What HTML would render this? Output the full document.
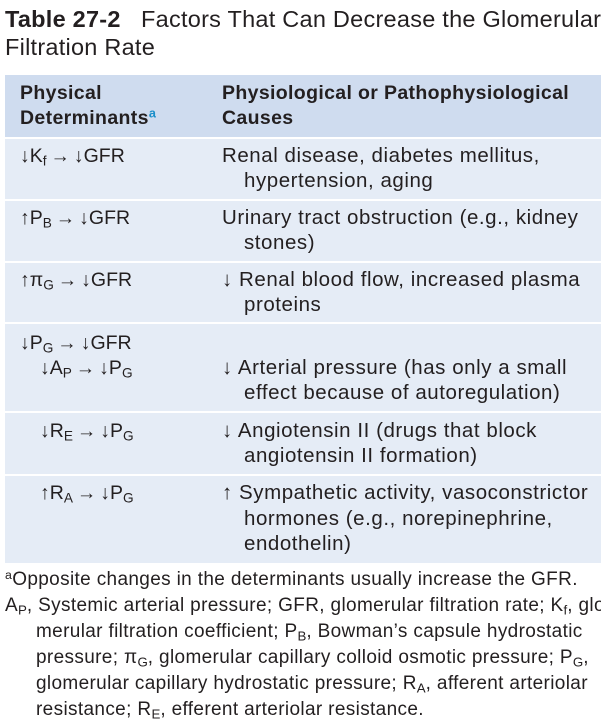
<!DOCTYPE html>
<html><head><meta charset="utf-8">
<style>
html,body{margin:0;padding:0;background:#fff;}
#page{position:relative;width:601px;height:726px;overflow:hidden;font-family:"Liberation Sans",sans-serif;color:#231f20;}
.ln{position:absolute;white-space:nowrap;font-size:20.5px;letter-spacing:0.55px;line-height:22px;}
.hd{font-size:19.5px;letter-spacing:0.35px;font-weight:bold;}
.fn{position:absolute;white-space:nowrap;font-size:19px;letter-spacing:0.35px;line-height:22px;}
.c1{font-size:19.5px;letter-spacing:0px;}
.b{font-weight:bold;}
sub{font-size:0.7em;vertical-align:-0.25em;line-height:0;letter-spacing:0;}
sup{font-size:0.65em;vertical-align:0.5em;line-height:0;color:#1a8fc9;font-weight:bold;}
.band{position:absolute;left:5px;width:596px;}
</style></head><body>
<div id="page">
  <div class="ln" style="left:5px;top:6px;font-size:23.5px;letter-spacing:0.25px;line-height:26px;"><span class="b">Table 27-2</span>&nbsp;&nbsp;&nbsp;Factors That Can Decrease the Glomerular</div>
  <div class="ln" style="left:5px;top:34px;font-size:23.5px;letter-spacing:0.25px;line-height:26px;">Filtration Rate</div>

  <div class="band" style="top:75px;height:62px;background:#cfdcef;"></div>
  <div class="band" style="top:139px;height:60px;background:#e5ecf6;"></div>
  <div class="band" style="top:201px;height:60px;background:#e5ecf6;"></div>
  <div class="band" style="top:263px;height:59px;background:#e5ecf6;"></div>
  <div class="band" style="top:324px;height:87px;background:#e5ecf6;"></div>
  <div class="band" style="top:413px;height:61px;background:#e5ecf6;"></div>
  <div class="band" style="top:476px;height:87px;background:#e5ecf6;"></div>

  <div class="ln hd" style="left:20px;top:82px;">Physical</div>
  <div class="ln hd" style="left:20px;top:107px;">Determinants<sup>a</sup></div>
  <div class="ln hd" style="left:222px;top:82px;">Physiological or Pathophysiological</div>
  <div class="ln hd" style="left:222px;top:107px;">Causes</div>

  <div class="ln c1" style="left:20px;top:145px;">↓K<sub>f</sub>&thinsp;→&thinsp;↓GFR</div>
  <div class="ln" style="left:222px;top:145px;">Renal disease, diabetes mellitus,</div>
  <div class="ln" style="left:244px;top:170px;">hypertension, aging</div>

  <div class="ln c1" style="left:20px;top:207px;">↑P<sub>B</sub>&thinsp;→&thinsp;↓GFR</div>
  <div class="ln" style="left:222px;top:207px;">Urinary tract obstruction (e.g., kidney</div>
  <div class="ln" style="left:244px;top:232px;">stones)</div>

  <div class="ln c1" style="left:20px;top:269px;">↑π<sub>G</sub>&thinsp;→&thinsp;↓GFR</div>
  <div class="ln" style="left:222px;top:269px;">↓ Renal blood flow, increased plasma</div>
  <div class="ln" style="left:244px;top:294px;">proteins</div>

  <div class="ln c1" style="left:20px;top:332px;">↓P<sub>G</sub>&thinsp;→&thinsp;↓GFR</div>
  <div class="ln c1" style="left:40px;top:357px;">↓A<sub>P</sub>&thinsp;→&thinsp;↓P<sub>G</sub></div>
  <div class="ln" style="left:222px;top:357px;">↓ Arterial pressure (has only a small</div>
  <div class="ln" style="left:244px;top:382px;">effect because of autoregulation)</div>

  <div class="ln c1" style="left:40px;top:420px;">↓R<sub>E</sub>&thinsp;→&thinsp;↓P<sub>G</sub></div>
  <div class="ln" style="left:222px;top:420px;">↓ Angiotensin II (drugs that block</div>
  <div class="ln" style="left:244px;top:445px;">angiotensin II formation)</div>

  <div class="ln c1" style="left:40px;top:482px;">↑R<sub>A</sub>&thinsp;→&thinsp;↓P<sub>G</sub></div>
  <div class="ln" style="left:222px;top:482px;">↑ Sympathetic activity, vasoconstrictor</div>
  <div class="ln" style="left:244px;top:508px;">hormones (e.g., norepinephrine,</div>
  <div class="ln" style="left:244px;top:533px;">endothelin)</div>

  <div class="fn" style="left:5px;top:569px;"><sup style="color:#231f20;font-weight:normal">a</sup>Opposite changes in the determinants usually increase the GFR.</div>
  <div class="fn" style="left:5px;top:595px;">A<sub>P</sub>, Systemic arterial pressure; GFR, glomerular filtration rate; K<sub>f</sub>, glo</div>
  <div class="fn" style="left:36px;top:621px;">merular filtration coefficient; P<sub>B</sub>, Bowman’s capsule hydrostatic</div>
  <div class="fn" style="left:36px;top:647px;">pressure; π<sub>G</sub>, glomerular capillary colloid osmotic pressure; P<sub>G</sub>,</div>
  <div class="fn" style="left:36px;top:673px;">glomerular capillary hydrostatic pressure; R<sub>A</sub>, afferent arteriolar</div>
  <div class="fn" style="left:36px;top:699px;">resistance; R<sub>E</sub>, efferent arteriolar resistance.</div>
</div>
</body></html>
